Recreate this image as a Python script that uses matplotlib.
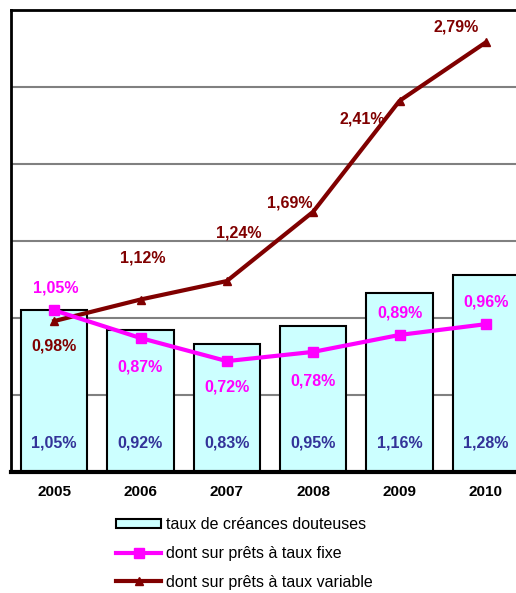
import matplotlib
matplotlib.use("Agg")
import matplotlib.pyplot as plt
import numpy as np

plt.rcParams['font.family'] = ['Liberation Sans', 'DejaVu Sans']

years = ["2005", "2006", "2007", "2008", "2009", "2010"]
taux_douteuses = [1.05, 0.92, 0.83, 0.95, 1.16, 1.28]
taux_fixe = [1.05, 0.87, 0.72, 0.78, 0.89, 0.96]
taux_variable = [0.98, 1.12, 1.24, 1.69, 2.41, 2.79]

label_bars = "taux de créances douteuses"
label_fixe = "dont sur prêts à taux fixe"
label_var = "dont sur prêts à taux variable"

# label offsets in pixels (dx, dy)
fixe_offsets = [(2, 22), (0, -29), (0, -26), (0, -29), (0, 22), (0, 22)]
var_offsets = [(0, -25), (2, 42), (12, 48), (-23, 9), (-37, -18), (-30, 15)]

def pct(v):
    return f"{v:.2f}".replace(".", ",") + "%"

fig = plt.figure(figsize=(5.16, 5.93), dpi=100)
ax = fig.add_axes([11 / 516, 121 / 593, 518 / 516, 462 / 593])

x = np.arange(len(years))
BLUE = "#333399"
MAGENTA = "#FF00FF"
DARKRED = "#800000"
LABEL_FS = 11.5

ax.set_ylim(0, 3.0)
ax.set_xlim(-0.5, 5.5)
ax.set_yticks(np.arange(0.5, 3.0, 0.5))
ax.yaxis.grid(True, color="#808080", linewidth=1.5)
ax.set_axisbelow(True)
ax.tick_params(axis="y", left=False, labelleft=False)
ax.tick_params(axis="x", bottom=False, pad=6)
ax.set_xticks(x)
ax.set_xticklabels(years, fontsize=11, fontweight="bold")

for side in ["left", "top"]:
    ax.spines[side].set_linewidth(2)
ax.spines["bottom"].set_linewidth(3)
ax.spines["right"].set_visible(False)

bars = ax.bar(x, taux_douteuses, width=0.77, color="#CCFFFF",
              edgecolor="black", linewidth=1.5, label=label_bars, zorder=2)
line_fixe, = ax.plot(x, taux_fixe, color=MAGENTA, linewidth=3, marker="s",
                     markersize=7, label=label_fixe, zorder=4)
line_var, = ax.plot(x, taux_variable, color=DARKRED, linewidth=3, marker="^",
                    markersize=6, label=label_var, zorder=3)

for xi, v in zip(x, taux_douteuses):
    ax.text(xi, 0.19, pct(v), ha="center", va="center", color=BLUE,
            fontsize=LABEL_FS, fontweight="bold", zorder=5)
for xi, v, (dx, dy) in zip(x, taux_fixe, fixe_offsets):
    ax.annotate(pct(v), (xi, v), xytext=(dx, dy), textcoords="offset pixels",
                ha="center", va="center", color=MAGENTA, fontsize=LABEL_FS,
                fontweight="bold", zorder=5)
for xi, v, (dx, dy) in zip(x, taux_variable, var_offsets):
    ax.annotate(pct(v), (xi, v), xytext=(dx, dy), textcoords="offset pixels",
                ha="center", va="center", color=DARKRED, fontsize=LABEL_FS,
                fontweight="bold", zorder=5)

fig.legend(handles=[bars, line_fixe, line_var],
           labels=[label_bars, label_fixe, label_var],
           loc="upper left", bbox_to_anchor=(102 / 516, 1 - 503 / 593),
           frameon=False, fontsize=11.5, handlelength=2.8, handletextpad=0.3,
           labelspacing=0.85, handleheight=0.5)

fig.savefig("out.png", dpi=100)
